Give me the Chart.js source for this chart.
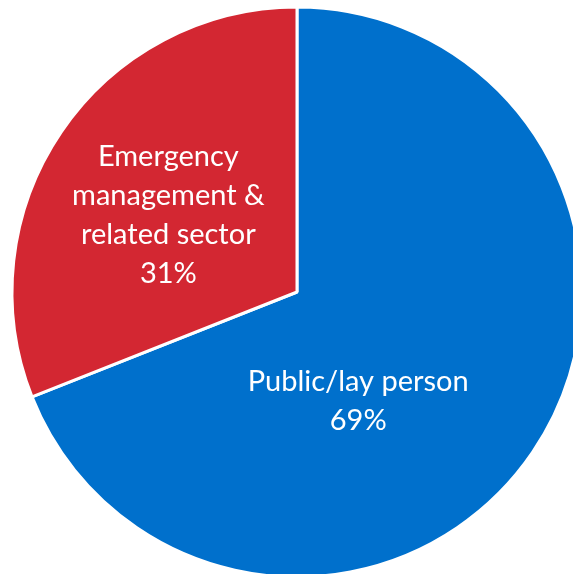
<!DOCTYPE html>
<html>
<head>
<meta charset="utf-8">
<script src="https://cdn.jsdelivr.net/npm/chart.js@4/dist/chart.umd.min.js"></script>
<style>
  html, body { margin: 0; padding: 0; background: #fff; overflow: hidden; }
  #wrap { position: absolute; left: 0; top: 0; width: 594px; height: 584px; }
</style>
</head>
<body>
<div id="wrap"><canvas id="pie"></canvas></div>
<script>
const categories = ['Public/lay person', 'Emergency management & related sector'];
const labelLines = [['Public/lay person'], ['Emergency', 'management &', 'related sector']];
const shares = [69, 31];
const colors = ['#0070CC', '#D32732'];

// where each label sits, as angle (deg, from 3 o'clock, clockwise) and fraction of radius
const labelAnchors = [{ angle: 60.8, frac: 0.44 }, { angle: 210.7, frac: 0.525 }];

const sliceLabels = {
  id: 'sliceLabels',
  afterDatasetsDraw(chart) {
    const ctx = chart.ctx;
    const meta = chart.getDatasetMeta(0);
    ctx.save();
    ctx.fillStyle = '#fff';
    ctx.font = '29px Lato, "Open Sans", sans-serif';
    ctx.textAlign = 'center';
    ctx.textBaseline = 'middle';
    meta.data.forEach((arc, i) => {
      const a = labelAnchors[i].angle * Math.PI / 180;
      const r = arc.outerRadius * labelAnchors[i].frac;
      const cx = arc.x + Math.cos(a) * r;
      const cy = arc.y + Math.sin(a) * r;
      const lines = labelLines[i].concat([shares[i] + '%']);
      const lh = 39;
      const top = cy - (lines.length - 1) * lh / 2;
      lines.forEach((t, k) => ctx.fillText(t, cx, top + k * lh));
    });
    ctx.restore();
  }
};

new Chart(document.getElementById('pie'), {
  type: 'pie',
  data: {
    labels: categories,
    datasets: [{
      data: shares,
      backgroundColor: colors,
      borderColor: '#fff',
      borderWidth: 3
    }]
  },
  options: {
    responsive: true,
    maintainAspectRatio: false,
    animation: false,
    radius: 285,
    layout: { padding: 0 },
    plugins: {
      legend: { display: false },
      tooltip: { enabled: false }
    }
  },
  plugins: [sliceLabels]
});
</script>
</body>
</html>
